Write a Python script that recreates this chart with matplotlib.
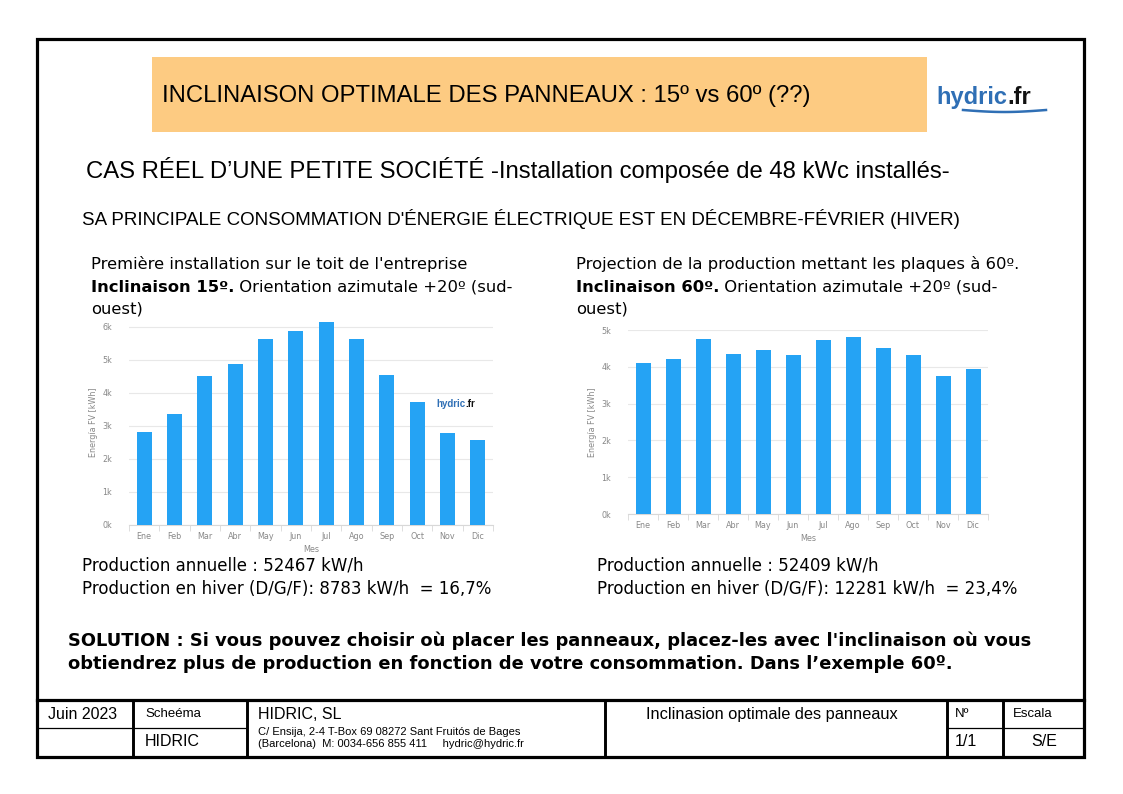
import numpy as np
import matplotlib
matplotlib.use("Agg")
import matplotlib.pyplot as plt
from matplotlib.patches import Rectangle

plt.rcParams['font.family'] = ['DejaVu Sans']

months = ['Ene', 'Feb', 'Mar', 'Abr', 'May', 'Jun', 'Jul', 'Ago', 'Sep', 'Oct', 'Nov', 'Dic']
# kWh per month
prod_15 = [2800, 3350, 4520, 4860, 5640, 5860, 6150, 5630, 4530, 3710, 2770, 2580]
prod_60 = [4100, 4210, 4760, 4340, 4450, 4330, 4740, 4820, 4500, 4330, 3760, 3930]
yticks_15 = [0, 1000, 2000, 3000, 4000, 5000, 6000]
yticks_60 = [0, 1000, 2000, 3000, 4000, 5000]

BAR = '#25a3f4'
ARIAL = 'Liberation Sans'
W, H = 1123, 794

fig = plt.figure(figsize=(W / 100, H / 100), dpi=100)
bg = fig.add_axes([0, 0, 1, 1])
bg.set_xlim(0, W)
bg.set_ylim(H, 0)
bg.axis('off')
renderer = fig.canvas.get_renderer()


def put(x, y, s, width=None, **kw):
    t = bg.text(x, y, s, va='baseline', **kw)
    if width:
        bb = t.get_window_extent(renderer)
        t.set_fontsize(t.get_fontsize() * width / bb.width)
    return t


def after(t):
    return t.get_window_extent(renderer).x1


def hline(x0, x1, y, lw=1.0):
    bg.plot([x0, x1], [y, y], color='black', lw=lw, solid_capstyle='projecting')


def vline(x, y0, y1, lw=1.0):
    bg.plot([x, x], [y0, y1], color='black', lw=lw, solid_capstyle='projecting')


# outer frame
bg.add_patch(Rectangle((37, 39), 1047, 718, fill=False, lw=2.3, ec='black'))

# header
bg.add_patch(Rectangle((152, 57), 775, 75, fc='#fdcb82', ec='none'))
put(162, 102, 'INCLINAISON OPTIMALE DES PANNEAUX : 15º vs 60º (??)', width=650,
    family=ARIAL, fontsize=16)
lg = put(936, 104, 'hydric', fontsize=17, fontweight='bold', color='#2f6fb5', family=ARIAL)
put(after(lg), 104, '.fr', fontsize=17, fontweight='bold', color='#111111', family=ARIAL)
wx = np.linspace(963, 1046, 40)
bg.plot(wx, 110 + 2.0 * np.sin((wx - 963) / 83 * np.pi), color='#2f6fb5', lw=1.8)

put(86, 178, 'CAS RÉEL D\u2019UNE PETITE SOCIÉTÉ -Installation composée de 48 kWc installés-',
    width=866, family=ARIAL, fontsize=16)
put(82, 225, "SA PRINCIPALE CONSOMMATION D'ÉNERGIE ÉLECTRIQUE EST EN DÉCEMBRE-FÉVRIER (HIVER)",
    width=876, family=ARIAL, fontsize=12)

# descriptive text blocks
t0 = put(91, 269, "Première installation sur le toit de l'entreprise", width=376, fontsize=12)
fs = t0.get_fontsize()
b = put(91, 292, 'Inclinaison 15º.', fontsize=fs, fontweight='bold')
put(after(b), 292, ' Orientation azimutale +20º (sud-', fontsize=fs)
put(91, 314, 'ouest)', fontsize=fs)

put(576, 269, 'Projection de la production mettant les plaques à 60º.', fontsize=fs)
b = put(576, 292, 'Inclinaison 60º.', fontsize=fs, fontweight='bold')
put(after(b), 292, ' Orientation azimutale +20º (sud-', fontsize=fs)
put(576, 314, 'ouest)', fontsize=fs)

t1 = put(82, 571, 'Production annuelle : 52467 kW/h', width=281, fontsize=12)
fs2 = t1.get_fontsize()
put(82, 594, 'Production en hiver (D/G/F): 8783 kW/h  = 16,7%', fontsize=fs2)
put(597, 571, 'Production annuelle : 52409 kW/h', fontsize=fs2)
put(597, 594, 'Production en hiver (D/G/F): 12281 kW/h  = 23,4%', fontsize=fs2)

s1 = put(68, 646, "SOLUTION : Si vous pouvez choisir où placer les panneaux, placez-les avec l'inclinaison où vous",
         width=959, fontsize=12, fontweight='bold')
put(68, 669, "obtiendrez plus de production en fonction de votre consommation. Dans l\u2019exemple 60º.",
    fontsize=s1.get_fontsize(), fontweight='bold')


# bar charts
def bar_chart(px, top, bottom, vals, ticks, ymax, logo=False):
    ax = fig.add_axes([px[0] / W, (H - bottom) / H, (px[1] - px[0]) / W, (bottom - top) / H])
    x = np.arange(len(months))
    ax.bar(x, vals, width=0.5, color=BAR, zorder=3)
    ax.set_xlim(-0.5, len(months) - 0.5)
    ax.set_ylim(0, ymax)
    ax.set_yticks(ticks)
    ax.set_yticklabels([f'{v // 1000}k' for v in ticks])
    ax.set_xticks(x)
    ax.set_xticklabels(months)
    ax.set_xticks(np.arange(-0.5, len(months)), minor=True)
    ax.grid(axis='y', color='#e8e8e8', lw=0.8, zorder=0)
    for sp in ['top', 'right', 'left']:
        ax.spines[sp].set_visible(False)
    ax.spines['bottom'].set_color('#d8d8d8')
    ax.tick_params(axis='x', which='major', length=0, labelsize=5.8, labelcolor='#888888', pad=5)
    ax.tick_params(axis='x', which='minor', length=4, color='#d8d8d8')
    ax.tick_params(axis='y', length=0, labelsize=5.8, labelcolor='#888888', pad=12)
    ax.set_ylabel('Energía FV [kWh]', fontsize=5.8, color='#888888', labelpad=3)
    ax.set_xlabel('Mes', fontsize=5.8, color='#888888', labelpad=3)
    ax.set_facecolor('none')
    if logo:
        ax.text(0.925, 0.575, 'hydric', transform=ax.transAxes, fontsize=7,
                fontweight='bold', color='#2f6fb5', family=ARIAL, ha='right')
        ax.text(0.925, 0.575, '.fr', transform=ax.transAxes, fontsize=7,
                fontweight='bold', color='#111111', family=ARIAL, ha='left')
    return ax


bar_chart((129, 493), 320, 525, prod_15, yticks_15, 6200, logo=True)
bar_chart((628, 988), 330, 514, prod_60, yticks_60, 5000)

# title block
hline(37, 1084, 700, lw=2.3)
hline(37, 247, 728, lw=0.9)
hline(947, 1084, 728, lw=0.9)
for xv in [133, 247, 605, 947, 1003]:
    vline(xv, 700, 757, lw=2.1)

put(83, 719, 'Juin 2023', fontsize=11.5, family=ARIAL, ha='center')
put(145, 717, 'Scheéma', fontsize=9.5, family=ARIAL)
put(145, 746, 'HIDRIC', fontsize=11.5, family=ARIAL)
put(258, 719, 'HIDRIC, SL', fontsize=11.5, family=ARIAL)
put(258, 735, 'C/ Ensija, 2-4 T-Box 69 08272 Sant Fruitós de Bages', fontsize=8, family=ARIAL)
put(258, 747, '(Barcelona)  M: 0034-656 855 411     hydric@hydric.fr', fontsize=8, family=ARIAL)
put(772, 719, 'Inclinasion optimale des panneaux', fontsize=11.8, family=ARIAL, ha='center')
put(955, 717, 'Nº', fontsize=9.5, family=ARIAL)
put(1013, 717, 'Escala', fontsize=9.5, family=ARIAL)
put(955, 746, '1/1', fontsize=11.5, family=ARIAL)
put(1044, 746, 'S/E', fontsize=11.5, family=ARIAL, ha='center')

fig.savefig('out.png', dpi=100)
